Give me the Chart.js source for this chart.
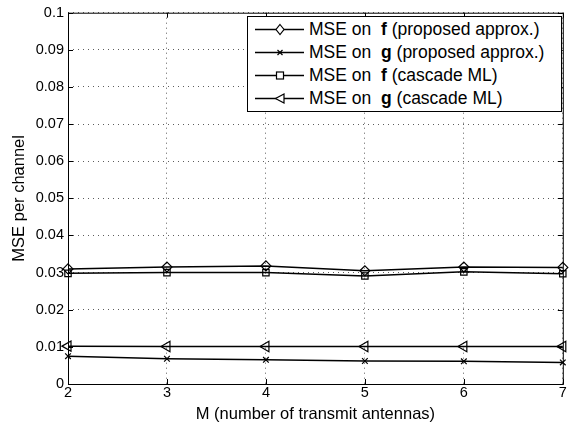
<!DOCTYPE html>
<html>
<head>
<meta charset="utf-8">
<script src="https://cdn.jsdelivr.net/npm/chart.js@4"></script>
<style>
  body { margin: 0; background: #fff; }
  #wrap { position: relative; width: 570px; height: 428px; }
  #legend {
    position: absolute; left: 247px; top: 16px; width: 315px; height: 96px;
    border: 1px solid #000; background: #fff; box-sizing: border-box;
    font-family: "Liberation Sans", Arial, sans-serif; font-size: 17.5px; color: #000;
    padding-top: 1px; white-space: nowrap;
  }
  #legend .row { height: 23px; line-height: 23px; display: flex; align-items: center; }
  #legend svg { margin-left: 7px; margin-right: 5px; flex: none; }
</style>
</head>
<body>
<div id="wrap">
  <canvas id="c" width="570" height="428"></canvas>
  <div id="legend"></div>
</div>
<script>
const antennas = [2, 3, 4, 5, 6, 7];
const fProposed = [0.0310, 0.0315, 0.0318, 0.0305, 0.0315, 0.0314];
const gProposed = [0.0075, 0.0068, 0.0065, 0.0062, 0.0061, 0.0058];
const fCascade = [0.0298, 0.0300, 0.0300, 0.0291, 0.0302, 0.0297];
const gCascade = [0.0102, 0.0101, 0.0101, 0.0101, 0.0101, 0.0101];
const yTicks = [0, 0.01, 0.02, 0.03, 0.04, 0.05, 0.06, 0.07, 0.08, 0.09, 0.1];

const series = [
  { name: 'f', note: '(proposed approx.)', data: fProposed, style: 'rectRot', rot: 0, r: 5 },
  { name: 'g', note: '(proposed approx.)', data: gProposed, style: 'crossRot', rot: 0, r: 4 },
  { name: 'f', note: '(cascade ML)', data: fCascade, style: 'rect', rot: 0, r: 4.5 },
  { name: 'g', note: '(cascade ML)', data: gCascade, style: 'triangle', rot: -90, r: 6 }
];

// legend (html so the bold letters work)
const legendSvg = {
  rectRot: '<path d="M25 4.5 L29 9.5 L25 14.5 L21 9.5 Z" fill="#fff" stroke="#000" stroke-width="1.2"/>',
  crossRot: '<path d="M22.5 7 L27.5 12 M27.5 7 L22.5 12" stroke="#000" stroke-width="1.2"/>',
  rect: '<rect x="21.5" y="6" width="7" height="7" fill="#fff" stroke="#000" stroke-width="1.2"/>',
  triangle: '<path d="M20.5 9.5 L29 5 L29 14 Z" fill="#fff" stroke="#000" stroke-width="1.2"/>'
};
const leg = document.getElementById('legend');
series.forEach(s => {
  const row = document.createElement('div');
  row.className = 'row';
  row.innerHTML = '<svg width="49" height="19"><line x1="0" y1="9.5" x2="49" y2="9.5" stroke="#000" stroke-width="1.4"/>' +
    legendSvg[s.style] + '</svg><span>MSE on &nbsp;<b>' + s.name + '</b> ' + s.note + '</span>';
  leg.appendChild(row);
});

// box + inward ticks, matlab style
const boxPlugin = {
  id: 'box',
  afterDraw(chart) {
    const { ctx, chartArea: a, scales } = chart;
    ctx.save();
    ctx.strokeStyle = '#000';
    ctx.lineWidth = 1;
    ctx.strokeRect(a.left + 0.5, a.top + 0.5, a.right - a.left, a.bottom - a.top);
    ctx.beginPath();
    antennas.forEach(v => {
      const x = Math.round(scales.x.getPixelForValue(v)) + 0.5;
      ctx.moveTo(x, a.bottom); ctx.lineTo(x, a.bottom - 5);
      ctx.moveTo(x, a.top); ctx.lineTo(x, a.top + 5);
    });
    yTicks.forEach(v => {
      const y = Math.round(scales.y.getPixelForValue(v)) + 0.5;
      ctx.moveTo(a.left, y); ctx.lineTo(a.left + 5, y);
      ctx.moveTo(a.right, y); ctx.lineTo(a.right - 5, y);
    });
    ctx.stroke();
    ctx.restore();
  }
};

const font = { family: '"Liberation Sans", Arial, sans-serif', size: 14.5 };
const titleFont = { family: font.family, size: 16.5 };

new Chart(document.getElementById('c'), {
  type: 'line',
  data: {
    datasets: series.map(s => ({
      label: 'MSE on ' + s.name + ' ' + s.note,
      data: antennas.map((m, i) => ({ x: m, y: s.data[i] })),
      borderColor: '#000',
      borderWidth: 1.5,
      backgroundColor: 'rgba(255,255,255,0)',
      pointStyle: s.style,
      pointRotation: s.rot,
      pointRadius: s.r,
      pointBorderWidth: 1.2,
      pointBorderColor: '#000',
      pointBackgroundColor: 'rgba(255,255,255,0)',
      tension: 0,
      clip: false
    }))
  },
  options: {
    responsive: false,
    animation: false,
    layout: { padding: { top: 9, right: 4, left: 0, bottom: 0 } },
    plugins: { legend: { display: false }, tooltip: { enabled: false } },
    scales: {
      x: {
        type: 'linear', min: 2, max: 7,
        afterBuildTicks: sc => { sc.ticks = antennas.map(v => ({ value: v })); },
        afterFit: sc => { sc.height = 44; },
        ticks: { color: '#000', font: font, padding: 0 },
        grid: { color: '#333', drawTicks: false, lineWidth: 0.8 },
        border: { display: false, dash: [1, 4] },
        title: { display: true, text: 'M (number of transmit antennas)', color: '#000',
                 font: titleFont, padding: { top: 0 } }
      },
      y: {
        type: 'linear', min: 0, max: 0.1,
        afterBuildTicks: sc => { sc.ticks = yTicks.map(v => ({ value: v })); },
        afterFit: sc => { sc.width = 68; },
        ticks: { color: '#000', font: font, padding: 4, callback: v => String(+v.toFixed(2)) },
        grid: { color: '#333', drawTicks: false, lineWidth: 0.8 },
        border: { display: false, dash: [1, 4] },
        title: { display: true, text: 'MSE per channel', color: '#000',
                 font: titleFont, padding: { top: 10, bottom: 0 } }
      }
    }
  },
  plugins: [boxPlugin]
});
</script>
</body>
</html>
